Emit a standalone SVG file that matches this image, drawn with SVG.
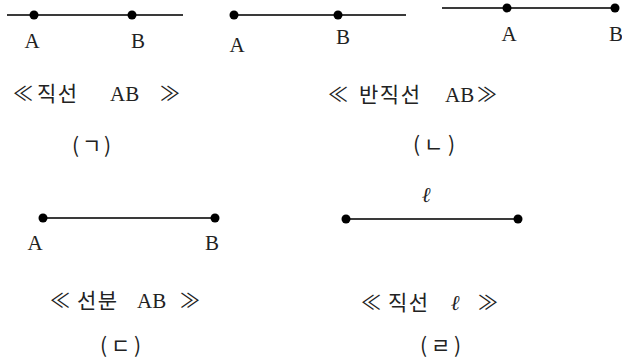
<svg xmlns="http://www.w3.org/2000/svg" width="622" height="362" viewBox="0 0 622 362">
<style>
.ln{stroke:#3a3a3a;stroke-width:2;fill:none}
.dot{fill:#000}
.lt{font-family:"Liberation Serif","DejaVu Serif",serif;font-size:21px;fill:#222}
.ko{font-family:"Noto Sans CJK KR","Noto Sans",sans-serif;font-size:21px;letter-spacing:1.5px;fill:#222}
.sym{font-family:"Noto Sans CJK KR","DejaVu Sans",sans-serif;font-size:20px;fill:#222}
</style>
<rect width="622" height="362" fill="#fff"/>
<g id="connectors">
<line class="ln" x1="7" y1="15" x2="183" y2="15"/>
<line class="ln" x1="234" y1="15" x2="406" y2="15"/>
<line class="ln" x1="442" y1="8" x2="615" y2="8"/>
<line class="ln" x1="43" y1="218" x2="215" y2="218"/>
<line class="ln" x1="346" y1="219" x2="518" y2="219"/>
</g>
<g id="panel-a">
<circle class="dot" cx="34" cy="15" r="4.5"/>
<circle class="dot" cx="132" cy="15" r="4.5"/>
<text class="lt" x="32" y="48" text-anchor="middle">A</text>
<text class="lt" x="138" y="48" text-anchor="middle">B</text>
<text class="sym" x="13" y="101">≪</text>
<text class="ko" x="37" y="101">직선</text>
<text class="lt" x="110" y="101">AB</text>
<text class="sym" x="160" y="101">≫</text>
<text class="ko" y="153"><tspan x="72">(</tspan><tspan x="82">ㄱ</tspan><tspan x="104">)</tspan></text>
</g>
<g id="panel-b">
<circle class="dot" cx="234" cy="15" r="4.5"/>
<circle class="dot" cx="338" cy="15" r="4.5"/>
<text class="lt" x="237" y="52" text-anchor="middle">A</text>
<text class="lt" x="343" y="44" text-anchor="middle">B</text>
<circle class="dot" cx="507" cy="8" r="4.5"/>
<circle class="dot" cx="615" cy="8" r="4.5"/>
<text class="lt" x="509" y="41" text-anchor="middle">A</text>
<text class="lt" x="616" y="41" text-anchor="middle">B</text>
<text class="sym" x="328" y="102">≪</text>
<text class="ko" x="359" y="102">반직선</text>
<text class="lt" x="445" y="102">AB</text>
<text class="sym" x="477" y="102">≫</text>
<text class="ko" y="152"><tspan x="413">(</tspan><tspan x="424">ㄴ</tspan><tspan x="448">)</tspan></text>
</g>
<g id="panel-c">
<circle class="dot" cx="43" cy="218" r="4.5"/>
<circle class="dot" cx="215" cy="218" r="4.5"/>
<text class="lt" x="35" y="250" text-anchor="middle">A</text>
<text class="lt" x="212" y="250" text-anchor="middle">B</text>
<text class="sym" x="50" y="308">≪</text>
<text class="ko" x="77" y="308">선분</text>
<text class="lt" x="137" y="308">AB</text>
<text class="sym" x="180" y="308">≫</text>
<text class="ko" y="353"><tspan x="100">(</tspan><tspan x="111">ㄷ</tspan><tspan x="134">)</tspan></text>
</g>
<g id="panel-d">
<circle class="dot" cx="346" cy="219" r="4.5"/>
<circle class="dot" cx="518" cy="219" r="4.5"/>
<text class="lt" x="426" y="202" text-anchor="middle" font-style="italic">ℓ</text>
<text class="sym" x="361" y="310">≪</text>
<text class="ko" x="388" y="310">직선</text>
<text class="lt" x="455" y="310" text-anchor="middle" font-style="italic">ℓ</text>
<text class="sym" x="478" y="310">≫</text>
<text class="ko" y="353"><tspan x="420">(</tspan><tspan x="431">ㄹ</tspan><tspan x="454">)</tspan></text>
</g>
</svg>
